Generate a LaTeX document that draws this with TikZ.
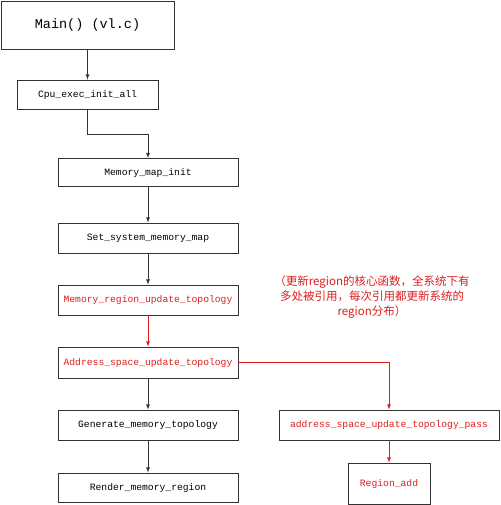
\documentclass[tikz,border=0pt]{standalone}
\usepackage{fontspec}
\setmonofont{Liberation Mono}
\newfontfamily\cjk{Noto Sans CJK SC}
\usetikzlibrary{positioning}
\definecolor{fnred}{RGB}{220,30,30}
\begin{document}
\begin{tikzpicture}[x=1pt,y=-1pt,>=latex,
    fbox/.style={draw=black!80,line width=0.8pt,inner sep=0pt,minimum width=180pt,minimum height=30pt,
      font=\ttfamily\fontsize{9.7}{11}\selectfont},
    redbox/.style={fbox,text=fnred},
    redline/.style={draw=fnred,line width=0.8pt},
    blkline/.style={draw=black!80,line width=0.8pt}]
        \useasboundingbox (0,0) rectangle (500,505);
        % main call chain
        \node[fbox,minimum width=173pt,minimum height=48pt,font=\ttfamily\fontsize{13.5}{15}\selectfont] (main) at (87.5,25) {Main() (vl.c)};
        \node[fbox,minimum width=141pt,minimum height=29pt] (cpuinit) at (87.5,94.5) {Cpu\_exec\_init\_all};
        \node[fbox,minimum height=28pt] (mapinit) at (148,172.5) {Memory\_map\_init};
        \node[fbox] (setmap) at (148,238) {Set\_system\_memory\_map};
        \node[redbox] (regtopo) at (148,300) {Memory\_region\_update\_topology};
        \node[redbox,minimum height=31pt] (astopo) at (148,362.5) {Address\_space\_update\_topology};
        \node[fbox] (gentopo) at (148,425) {Generate\_memory\_topology};
        \node[fbox,minimum height=29pt] (render) at (148,487.5) {Render\_memory\_region};
        \node[redbox,minimum width=220pt] (aspass) at (389,425) {address\_space\_update\_topology\_pass};
        \node[redbox,minimum width=82pt,minimum height=41pt] (regadd) at (389,483.5) {Region\_add};
        % note
        \node[text=fnred,align=center,font=\cjk\fontsize{11.5}{15}\selectfont] (note) at (372,297)
            {（更新region的核心函数，全系统下有\\多处被引用，每次引用都更新系统的\\region分布）};
        % connectors
        \draw[blkline,->] (main) -- (cpuinit);
        \draw[blkline,->] (cpuinit.south) -- ++(0,25) -| (mapinit.north);
        \draw[blkline,->] (mapinit) -- (setmap);
        \draw[blkline,->] (setmap) -- (regtopo);
        \draw[redline,->] (regtopo) -- (astopo);
        \draw[blkline,->] (astopo) -- (gentopo);
        \draw[blkline,->] (gentopo) -- (render);
        \draw[redline,->] (astopo.east) -| (aspass.north);
        \draw[redline,->] (aspass) -- (regadd);
\end{tikzpicture}
\end{document}
